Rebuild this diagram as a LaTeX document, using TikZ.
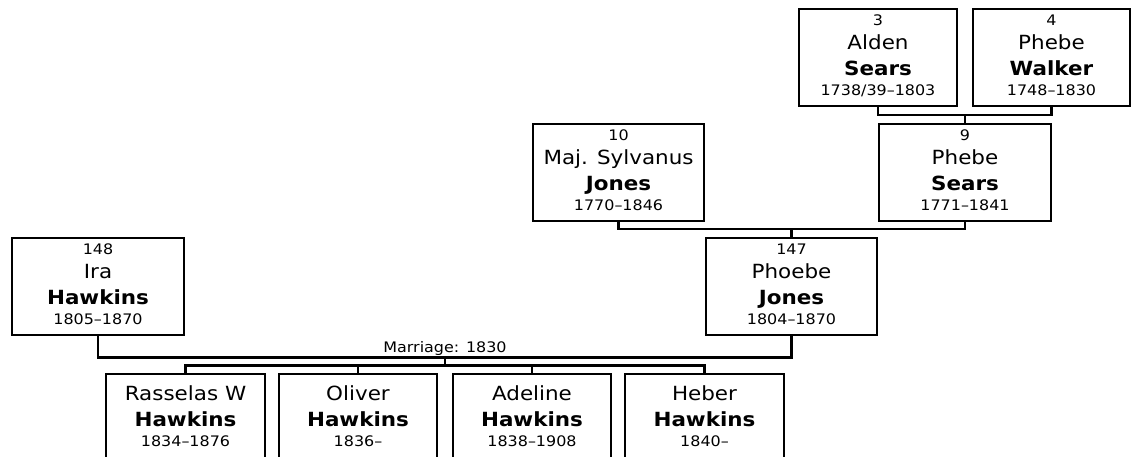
\documentclass[tikz,border=0pt]{standalone}
\usepackage{fontspec}
\setmainfont{DejaVu Sans}[FakeStretch=1.1]
\tikzset{
  person/.style={draw=black, line width=2.5pt, minimum height=97pt, inner sep=0pt, outer sep=0pt},
  small/.style={font=\fontsize{14.5}{17}\selectfont, inner sep=0pt, text=black},
  big/.style={font=\fontsize{19.5}{23}\selectfont, inner sep=0pt, text=black},
  bigb/.style={font=\fontsize{19.5}{23}\selectfont\bfseries, inner sep=0pt, text=black},
  link/.style={draw=black, line width=2.5pt}
}
% #1 name, #2 centre x, #3 top y, #4 width, #5 number, #6 first, #7 last, #8 dates
\newcommand\psnbox[8]{%
  \node[person, minimum width=#4pt] (#1) at (#2,#3+48.5) {};
  \node[small, anchor=base] (#1-num) at (#2,#3+16) {#5};
  \node[big, anchor=base] (#1-first) at (#2,#3+40.8) {#6};
  \node[bigb, anchor=base] (#1-last) at (#2,#3+66.8) {#7};
  \node[small, anchor=base] (#1-dates) at (#2,#3+86.5) {#8};
}
% child box: #1 name, #2 centre x, #3 top y, #4 width, #5 first, #6 last, #7 dates
\newcommand\kidbox[7]{%
  \node[person, minimum width=#4pt] (#1) at (#2,#3+48.5) {};
  \node[big, anchor=base] (#1-first) at (#2,#3+26.7) {#5};
  \node[bigb, anchor=base] (#1-last) at (#2,#3+52.7) {#6};
  \node[small, anchor=base] (#1-dates) at (#2,#3+72.7) {#7};
}
\begin{document}
\begin{tikzpicture}[x=1pt,y=-1pt]
\useasboundingbox (0,0) rectangle (1131,456);
\clip (0,0) rectangle (1131,456);
\fill[white] (0,0) rectangle (1131,456);

\psnbox{alden}{878}{9}{158}{3}{Alden}{Sears}{1738/39--1803}
\psnbox{walker}{1051.5}{9}{157}{4}{Phebe}{Walker}{1748--1830}
\psnbox{jones}{618.5}{124}{171}{10}{Maj. Sylvanus}{Jones}{1770--1846}
\psnbox{sears}{965}{124}{172}{9}{Phebe}{Sears}{1771--1841}
\psnbox{ira}{98}{238}{172}{148}{Ira}{Hawkins}{1805--1870}
\psnbox{phoebe}{791.5}{238}{171}{147}{Phoebe}{Jones}{1804--1870}

\kidbox{rasselas}{185.5}{374}{159}{Rasselas W}{Hawkins}{1834--1876}
\kidbox{oliver}{358}{374}{158}{Oliver}{Hawkins}{1836--}
\kidbox{adeline}{532}{374}{158}{Adeline}{Hawkins}{1838--1908}
\kidbox{heber}{704.5}{374}{159}{Heber}{Hawkins}{1840--}

\coordinate (j1) at (965,115);
\coordinate (j2) at (791.5,229);
\coordinate (j3) at (445,357.5);
\coordinate (j4) at (445,365.5);

\draw[link] (alden.south) |- (j1) -| (walker.south);
\draw[link] (j1) -- (sears.north);
\draw[link] (jones.south) |- (j2) -| (sears.south);
\draw[link] (j2) -- (phoebe.north);
\draw[link] (ira.south) |- (j3) -| (phoebe.south);
\draw[link] (j3) -- (j4);
\draw[link] (rasselas.north) |- (j4) -| (heber.north);
\draw[link] (oliver.north) -- (oliver.north |- j4);
\draw[link] (adeline.north) -- (adeline.north |- j4);

\node[small, anchor=base] (marriage) at (445,352.3) {Marriage: 1830};
\end{tikzpicture}
\end{document}
